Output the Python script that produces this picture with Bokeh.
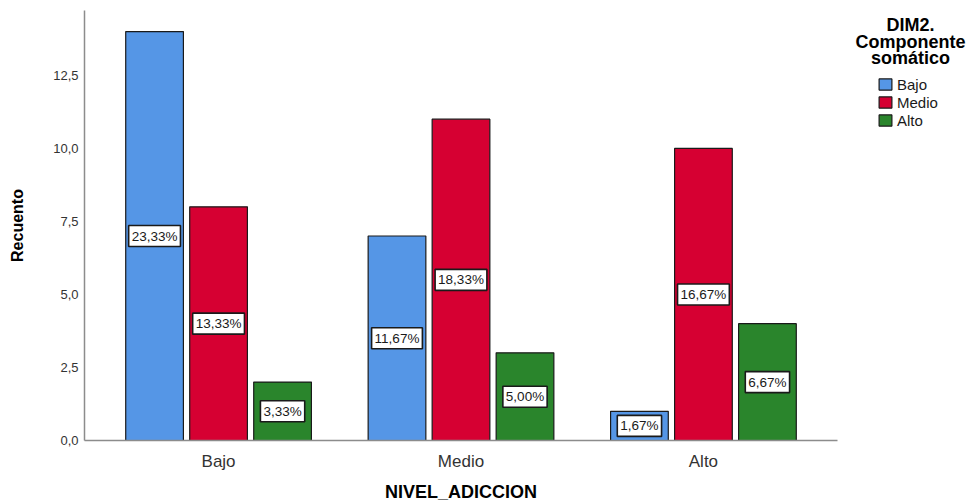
from bokeh.plotting import figure
from bokeh.layouts import row
from bokeh.models import (ColumnDataSource, Label, Legend, LegendItem,
                          FixedTicker, Range1d)
from bokeh.core.properties import value
from bokeh.embed import file_html
from bokeh.resources import INLINE

categories = ["Bajo", "Medio", "Alto"]
series = ["Bajo", "Medio", "Alto"]
counts_bajo = [14, 7, 1]
counts_medio = [8, 11, 10]
counts_alto = [2, 3, 4]
total = 60
y_ticks = [0, 2.5, 5, 7.5, 10, 12.5]
y_tick_labels = ["0,0", "2,5", "5,0", "7,5", "10,0", "12,5"]
colors = ["#5596E6", "#D60032", "#2A852C"]
legend_title = ["DIM2.", "Componente", "somático"]

FONT = "Liberation Sans"
H = 504
TOP, BOTTOM = 10, 63

p = figure(width=842, height=H, output_backend="svg", toolbar_location=None,
           x_range=Range1d(0.447, 3.553), y_range=Range1d(0, 14.72),
           min_border_left=84, min_border_right=5, min_border_top=TOP,
           min_border_bottom=BOTTOM)
p.xgrid.visible = False
p.ygrid.visible = False
p.outline_line_color = None

group_x = [1, 2, 3]
offsets = [-0.264, 0.0, 0.264]
bar_w = 0.238
all_counts = [counts_bajo, counts_medio, counts_alto]

for s, cnts, col, off in zip(series, all_counts, colors, offsets):
    xs = [g + off for g in group_x]
    pct = ["{:.2f}%".format(c / total * 100).replace(".", ",") for c in cnts]
    src = ColumnDataSource(dict(x=xs, top=cnts, mid=[c / 2 for c in cnts], pct=pct))
    p.vbar(x="x", top="top", width=bar_w, source=src, fill_color=col,
           line_color="#1a1a1a", line_width=1.2)
    p.text(x="x", y="mid", text="pct", source=src, text_align="center",
           text_baseline="middle", text_font=value(FONT), text_font_size="13.5px",
           text_color="#1a1a1a", background_fill_color="white",
           border_line_color="#1a1a1a", border_line_width=1.6, padding=3)

# axes
for ax in (p.xaxis, p.yaxis):
    ax.major_tick_line_color = None
    ax.minor_tick_line_color = None
    ax.major_tick_out = 0
    ax.major_tick_in = 0
    ax.axis_line_color = "#8c8c8c"
    ax.axis_line_width = 1.5
    ax.major_label_text_font = FONT
    ax.major_label_text_color = "#333333"
    ax.axis_label_text_font = FONT
    ax.axis_label_text_font_style = "bold"
    ax.axis_label_text_color = "black"

p.yaxis.ticker = FixedTicker(ticks=y_ticks)
p.yaxis.major_label_overrides = {t: l for t, l in zip(y_ticks, y_tick_labels)}
p.yaxis.major_label_text_font_size = "13px"
p.yaxis.major_label_standoff = 6
p.yaxis.axis_label = "Recuento"
p.yaxis.axis_label_text_font_size = "16px"
p.yaxis.axis_label_standoff = 24

p.xaxis.ticker = FixedTicker(ticks=group_x)
p.xaxis.major_label_overrides = {g: c for g, c in zip(group_x, categories)}
p.xaxis.major_label_text_font_size = "17px"
p.xaxis.major_label_standoff = 11
p.xaxis.axis_label = "NIVEL_ADICCION"
p.xaxis.axis_label_text_font_size = "18px"
p.xaxis.axis_label_standoff = 8

# legend panel (its frame spans screen rows TOP .. H-BOTTOM; y grows downward)
LW = 133
q = figure(width=LW, height=H, output_backend="svg", toolbar_location=None,
           x_range=Range1d(0, LW), y_range=Range1d(H - BOTTOM, TOP),
           x_axis_location=None, y_axis_location=None,
           min_border_left=0, min_border_right=0,
           min_border_top=TOP, min_border_bottom=BOTTOM)
q.grid.visible = False
q.outline_line_color = None

title_centers = [25, 42, 58]
for t, ty in zip(legend_title, title_centers):
    q.add_layout(Label(x=68, y=ty, text=t, text_align="center",
                       text_baseline="middle", text_font=FONT,
                       text_font_size="18px", text_font_style="bold",
                       text_color="black"))

nan = float("nan")
dummies = [q.vbar(x=[nan], top=[nan], width=1, fill_color=c, line_color="#1a1a1a",
                  line_width=1.2) for c in colors]
legend = Legend(items=[LegendItem(label=s, renderers=[r]) for s, r in zip(series, dummies)],
                location=(35, (H - BOTTOM) - 130), orientation="vertical",
                glyph_width=16, glyph_height=14, label_height=18, spacing=0,
                label_standoff=4, padding=0, margin=0,
                label_text_font=FONT, label_text_font_size="15px",
                label_text_color="#1a1a1a", border_line_color=None,
                background_fill_alpha=0)
q.add_layout(legend)

layout = row(p, q)
open("out.html", "w").write(file_html(layout, INLINE))
